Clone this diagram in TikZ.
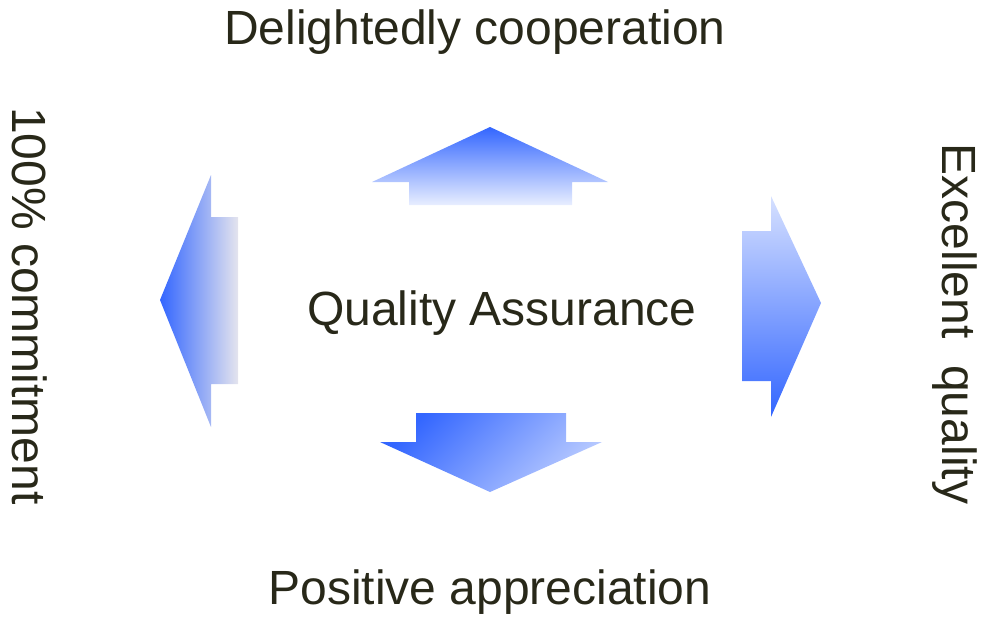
\documentclass[tikz,border=0pt]{standalone}
\usepackage{fontspec}
\setmainfont{Liberation Sans}
\definecolor{txt}{RGB}{40,40,25}
\definecolor{deep}{RGB}{51,102,255}
\definecolor{pale}{RGB}{232,238,255}
\definecolor{greyp}{RGB}{228,228,238}
\begin{document}
\begin{tikzpicture}[x=1pt,y=-1pt,
  lbl/.style={text=txt,font=\fontsize{48}{52}\selectfont,inner sep=0pt}]
\useasboundingbox (0,0) rectangle (981,616);
% up arrow
\path[top color=deep,bottom color=pale] (490,127) -- (608,182) -- (572,182) -- (572,205) -- (409,205) -- (409,182) -- (372,182) -- cycle;
% left arrow
\path[left color=deep,right color=greyp] (160,300) -- (211,175) -- (211,217) -- (238,217) -- (238,384) -- (211,384) -- (211,427) -- cycle;
% right arrow
\path[top color=pale!90!deep,bottom color=deep] (821,303) -- (771,417) -- (771,381) -- (742,381) -- (742,231) -- (771,231) -- (771,196) -- cycle;
% down arrow
\path[top color=deep,bottom color=pale!75!deep,shading angle=45] (490,492) -- (380,442) -- (416,442) -- (416,413) -- (566,413) -- (566,442) -- (602,442) -- cycle;
\node[lbl] (top) at (475,32) {Delightedly cooperation};
\node[lbl] (center) at (502,313) {Quality Assurance};
\node[lbl] (bottom) at (490,592) {Positive appreciation};
\node[lbl,rotate=-90] (left) at (30,306) {100\% commitment};
\node[lbl,rotate=-90] (right) at (955,324) {Excellent\ \ quality};
\end{tikzpicture}
\end{document}
